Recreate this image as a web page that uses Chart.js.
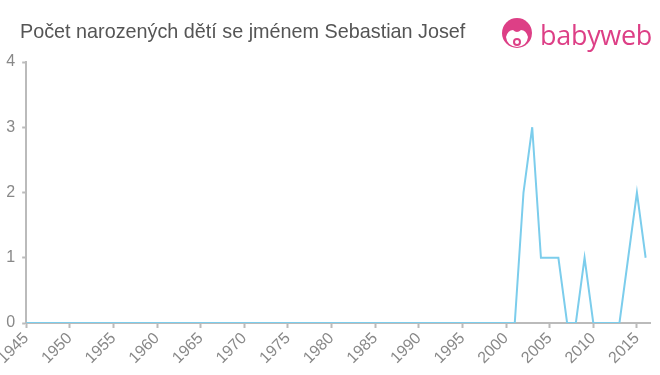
<!DOCTYPE html>
<html><head><meta charset="utf-8">
<script src="https://cdn.jsdelivr.net/npm/chart.js@4/dist/chart.umd.min.js"></script>
<style>
html,body{margin:0;padding:0;background:#fff;}
#wrap{position:relative;width:660px;height:375px;}
#title{position:absolute;left:20px;top:20px;font:19.8px "Liberation Sans",Arial,sans-serif;color:#555;white-space:nowrap;}
#logo{position:absolute;left:500px;top:14px;height:40px;display:flex;align-items:center;}
#logo span{font:27px "Open Sans","Liberation Sans",sans-serif;color:#dd3f86;margin-left:6px;letter-spacing:-0.3px;}
canvas{position:absolute;left:0;top:0;}
</style></head>
<body><div id="wrap">
<canvas id="c" width="660" height="375"></canvas>
<div id="title">Počet narozených dětí se jménem Sebastian Josef</div>
<div id="logo"><svg width="34" height="34" viewBox="0 0 34 34">
<circle cx="17" cy="16" r="15" fill="#dd3f86"/>
<path d="M6 20 Q8 13 13 13 Q17 17 21 13 Q26 13 28 20 Q27 29 17 30 Q7 29 6 20Z" fill="#fff"/>
<circle cx="17" cy="25" r="4" fill="#dd3f86"/>
<circle cx="17" cy="25" r="2" fill="#fff"/>
</svg><span>babyweb</span></div>
</div>
<script>
const years = [1945,1946,1947,1948,1949,1950,1951,1952,1953,1954,1955,1956,1957,1958,1959,1960,1961,1962,1963,1964,1965,1966,1967,1968,1969,1970,1971,1972,1973,1974,1975,1976,1977,1978,1979,1980,1981,1982,1983,1984,1985,1986,1987,1988,1989,1990,1991,1992,1993,1994,1995,1996,1997,1998,1999,2000,2001,2002,2003,2004,2005,2006,2007,2008,2009,2010,2011,2012,2013,2014,2015,2016];
const counts = [0,0,0,0,0,0,0,0,0,0,0,0,0,0,0,0,0,0,0,0,0,0,0,0,0,0,0,0,0,0,0,0,0,0,0,0,0,0,0,0,0,0,0,0,0,0,0,0,0,0,0,0,0,0,0,0,0,2,3,1,1,1,0,0,1,0,0,0,0,1,2,1];
const xTickLabels = [1945,1950,1955,1960,1965,1970,1975,1980,1985,1990,1995,2000,2005,2010,2015];
const yTickLabels = [0,1,2,3,4];

const points = years.map((y,i)=>({x:y,y:counts[i]}));
new Chart(document.getElementById('c'),{
  type:'line',
  data:{datasets:[{data:points,borderColor:'#7ccdec',borderWidth:2,pointRadius:0,tension:0,fill:false}]},
  options:{
    responsive:false,animation:false,
    layout:{padding:{top:62,right:10,left:0,bottom:0}},
    plugins:{legend:{display:false},tooltip:{enabled:false}},
    scales:{
      x:{type:'linear',min:1945,max:2016.5,
        afterBuildTicks:s=>{s.ticks=xTickLabels.map(v=>({value:v}));},
        afterFit:s=>{s.height=52;},
        grid:{display:true,drawOnChartArea:false,drawTicks:true,tickLength:5,tickColor:'#bbb',tickWidth:2},
        border:{color:'#bbb',width:2},
        ticks:{color:'#888',font:{size:16,family:'"Liberation Sans",Arial,sans-serif'},minRotation:45,maxRotation:45,autoSkip:false,padding:1,callback:v=>String(v)}
      },
      y:{min:0,max:4,
        afterBuildTicks:s=>{s.ticks=yTickLabels.map(v=>({value:v}));},
        afterFit:s=>{s.width=24;},
        grid:{display:true,drawOnChartArea:false,drawTicks:true,tickLength:4,tickColor:'#bbb',tickWidth:2},
        border:{color:'#bbb',width:2},
        ticks:{color:'#888',font:{size:16,family:'"Liberation Sans",Arial,sans-serif'},padding:7}
      }
    }
  }
});
</script>
</body></html>
